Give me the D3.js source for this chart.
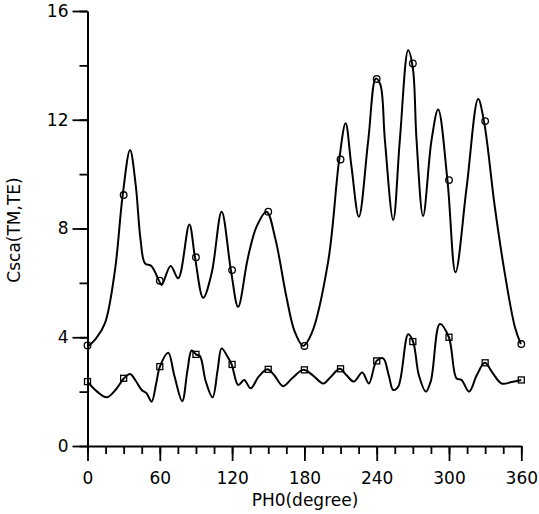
<!DOCTYPE html>
<html>
    <head>
        <script src="https://d3js.org/d3.v7.min.js"></script>
        <style>
            body { margin: 0; background: #fff; }
            text { font-family: "DejaVu Sans", sans-serif; fill: #000; }
        </style>
    </head>
    <body>
        <svg id="chart" width="539" height="514"></svg>
        <script>
            // upper curve (TM), degrees and values
            let tmDeg= [0, 7, 14.5, 22.8, 29.2, 35.3, 40, 44, 47.7, 53, 59.3, 61.5, 69, 75.3, 84.5, 89.2, 96, 103, 111.3, 119, 125, 133, 140.3, 148.6, 156, 165, 172, 179, 186, 199.7, 208.9, 214.2, 219, 225.2, 233, 239.3, 243, 246.8, 253.7, 259.2, 266.1, 270, 273, 278.5, 285.5, 291, 298.7, 305.4, 314.6, 324.2, 329, 338, 346.3, 354.6, 359.6];
            let tmVal= [3.65, 3.95, 4.52, 6.47, 9.23, 10.89, 9.6, 7.6, 6.72, 6.62, 6.08, 5.92, 6.62, 6.17, 8.15, 6.94, 5.45, 6.35, 8.62, 6.47, 5.12, 6.9, 8.07, 8.62, 7.6, 5.5, 4.2, 3.68, 4.14, 6.78, 10.54, 11.87, 10.3, 8.43, 11.25, 13.52, 13.3, 11.25, 8.31, 11.25, 14.56, 13.9, 11.3, 8.46, 11.25, 12.38, 9.78, 6.39, 9.5, 12.76, 11.95, 8.8, 6.35, 4.39, 3.75];

            // lower curve (TE)
            let teDeg= [0, 8, 15.9, 23, 30.3, 35.3, 40, 45, 49, 53.2, 57, 60.1, 67, 72, 78.6, 83, 86.4, 90, 93.3, 98, 103.8, 108, 111.3, 116, 119.6, 125.1, 130, 135.4, 142, 149.4, 155, 162.4, 170, 179, 187, 195.6, 202, 209.4, 215, 221, 228, 233.5, 239.9, 245.4, 250, 253.7, 258, 266.1, 270.2, 275, 280.8, 285, 292.4, 299.9, 306.2, 310.4, 316.7, 323, 329.7, 336, 343.6, 352, 360];
            let teVal= [2.37, 2.0, 1.79, 2.05, 2.49, 2.65, 2.4, 2.06, 1.94, 1.63, 2.3, 2.92, 3.43, 2.6, 1.65, 2.8, 3.51, 3.37, 3.31, 2.4, 1.79, 2.8, 3.59, 3.3, 3.0, 2.24, 2.43, 2.12, 2.55, 2.82, 2.6, 2.2, 2.5, 2.8, 2.6, 2.3, 2.55, 2.84, 2.6, 2.37, 2.7, 2.3, 3.13, 3.22, 2.6, 2.06, 2.2, 4.11, 3.84, 2.6, 2.0, 2.4, 4.49, 4.0, 2.49, 2.43, 2.0, 2.6, 3.06, 2.7, 2.3, 2.35, 2.43];

            // measured points shown as markers
            let markDeg= [0, 30, 60, 90, 120, 150, 180, 210, 240, 270, 300, 330, 360];
            let circleVal= [3.7, 9.23, 6.08, 6.94, 6.47, 8.62, 3.68, 10.54, 13.5, 14.07, 9.78, 11.95, 3.75];
            let squareVal= [2.37, 2.49, 2.92, 3.37, 3.0, 2.82, 2.8, 2.84, 3.13, 3.84, 4.0, 3.06, 2.43];

            let xMajor= [0, 60, 120, 180, 240, 300, 360];
            let yMajor= [0, 4, 8, 12, 16];

            let svg= d3.select("#chart");
            let x= d3.scaleLinear().domain([0, 360]).range([87.5, 521.3]);
            let y= d3.scaleLinear().domain([0, 16]).range([446, 11]);

            // x axis: minor ticks every 15, major every 60
            svg.append("g")
                .attr("transform", "translate(0,446)")
                .call(d3.axisBottom(x).tickValues(d3.range(0, 361, 15)).tickSize(8).tickSizeOuter(0).tickFormat(""))
                .call(g => g.select(".domain").remove());
            svg.append("g")
                .attr("transform", "translate(0,446)")
                .call(d3.axisBottom(x).tickValues(xMajor).tickSize(15).tickSizeOuter(0).tickPadding(11));

            // y axis: minor every 2, major every 4
            svg.append("g")
                .attr("transform", "translate(87.5,0)")
                .call(d3.axisLeft(y).tickValues(d3.range(0, 17, 2)).tickSize(8).tickSizeOuter(0).tickFormat(""))
                .call(g => g.select(".domain").remove());
            svg.append("g")
                .attr("transform", "translate(87.5,0)")
                .call(d3.axisLeft(y).tickValues(yMajor).tickSize(15).tickSizeOuter(0).tickPadding(4));

            svg.selectAll(".tick line").attr("stroke", "#000").attr("stroke-width", 1.8);
            svg.selectAll(".domain").attr("stroke", "#000").attr("stroke-width", 2);
            svg.selectAll(".tick text").style("font-size", "17px").style("font-family", "DejaVu Sans").attr("fill", "#000");

            // curves
            let line= d3.line()
                .x(d => x(d[0]))
                .y(d => y(d[1]))
                .curve(d3.curveCatmullRom.alpha(0.5));
            svg.append("path")
                .datum(d3.zip(tmDeg, tmVal))
                .attr("d", line)
                .attr("fill", "none")
                .attr("stroke", "#000")
                .attr("stroke-width", 2);
            svg.append("path")
                .datum(d3.zip(teDeg, teVal))
                .attr("d", line)
                .attr("fill", "none")
                .attr("stroke", "#000")
                .attr("stroke-width", 2);

            // markers
            svg.selectAll(".circ")
                .data(d3.zip(markDeg, circleVal))
                .join("circle")
                .attr("cx", d => x(d[0]))
                .attr("cy", d => y(d[1]))
                .attr("r", 3.3)
                .attr("fill", "none")
                .attr("stroke", "#000")
                .attr("stroke-width", 1.3);
            svg.selectAll(".sq")
                .data(d3.zip(markDeg, squareVal))
                .join("rect")
                .attr("x", d => x(d[0]) - 3)
                .attr("y", d => y(d[1]) - 3)
                .attr("width", 6)
                .attr("height", 6)
                .attr("fill", "none")
                .attr("stroke", "#000")
                .attr("stroke-width", 1.3);

            // axis titles
            svg.append("text")
                .attr("x", 305)
                .attr("y", 506)
                .attr("text-anchor", "middle")
                .style("font-size", "17px")
                .text("PH0(degree)");
            svg.append("text")
                .attr("transform", "translate(20,230) rotate(-90)")
                .attr("text-anchor", "middle")
                .style("font-size", "17px")
                .text("Csca(TM,TE)");
        </script>
    </body>
</html>
